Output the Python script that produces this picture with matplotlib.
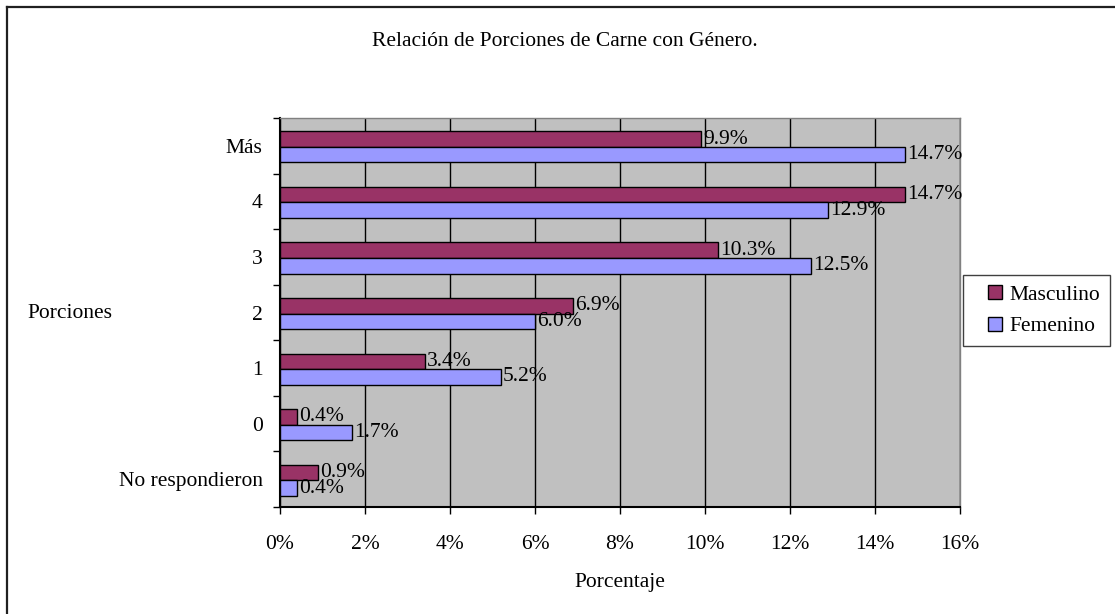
import matplotlib
matplotlib.use("Agg")
import matplotlib.pyplot as plt
from matplotlib.lines import Line2D
from matplotlib.ticker import FuncFormatter, MultipleLocator, FixedLocator
import numpy as np

# Porciones de carne por género (porcentaje)
categorias = ["No respondieron", "0", "1", "2", "3", "4", "Más"]
masculino = [0.9, 0.4, 3.4, 6.9, 10.3, 14.7, 9.9]
femenino = [0.4, 1.7, 5.2, 6.0, 12.5, 12.9, 14.7]
series = ["Masculino", "Femenino"]

COLOR_M = "#993366"
COLOR_F = "#9999FF"
FONDO = "#C0C0C0"
FS = 15.5

plt.rcParams['font.family'] = ['Liberation Serif', 'DejaVu Serif']
plt.rcParams['font.size'] = FS

W, H = 1115, 614
fig = plt.figure(figsize=(W / 100, H / 100), dpi=100)
ax = fig.add_axes([280 / W, 1 - 507 / H, 680 / W, 389 / H])
ax.set_facecolor(FONDO)

y = np.arange(len(categorias))
alto = 0.28
bm = ax.barh(y + alto / 2 - 0.02, masculino, height=alto, color=COLOR_M,
             edgecolor="black", linewidth=1, zorder=3)
bf = ax.barh(y - alto / 2 - 0.02, femenino, height=alto, color=COLOR_F,
             edgecolor="black", linewidth=1, zorder=3)
ax.bar_label(bm, fmt="{:.1f}%", padding=1.5, fontsize=FS, zorder=4)
ax.bar_label(bf, fmt="{:.1f}%", padding=1.5, fontsize=FS, zorder=4)

ax.set_xlim(0, 16)
ax.set_ylim(-0.5, len(categorias) - 0.5)
ax.xaxis.set_major_locator(MultipleLocator(2))
ax.xaxis.set_major_formatter(FuncFormatter(lambda v, p: f"{v:.0f}%"))
ax.grid(axis="x", color="black", linewidth=1, zorder=1)
ax.set_axisbelow(True)

# marcas del eje y en los límites de cada categoría, etiquetas al centro
ax.yaxis.set_major_locator(FixedLocator(np.arange(-0.5, len(categorias), 1.0)))
ax.yaxis.set_major_formatter(FuncFormatter(lambda v, p: ""))
ax.yaxis.set_minor_locator(FixedLocator(y))
ax.set_yticklabels(categorias, minor=True)
ax.tick_params(axis="y", which="minor", length=0, pad=12.5, labelsize=FS)
ax.tick_params(axis="y", which="major", length=5, width=1, direction="out")
ax.tick_params(axis="x", length=5, width=1, direction="out", pad=15, labelsize=FS)

for lado in ("left", "bottom"):
    ax.spines[lado].set_color("black")
    ax.spines[lado].set_linewidth(1.5)
for lado in ("top", "right"):
    ax.spines[lado].set_color("#808080")
    ax.spines[lado].set_linewidth(1)

fig.text(565 / W, 1 - 42 / H, "Relación de Porciones de Carne con Género.",
         ha="center", va="center", fontsize=FS)
fig.text(620 / W, 1 - 583 / H, "Porcentaje", ha="center", va="center", fontsize=FS)
fig.text(27 / W, 1 - 313 / H, "Porciones", ha="left", va="center", fontsize=FS)

# leyenda con marcadores cuadrados
handles = [Line2D([], [], linestyle="none", marker="s", markersize=10,
                  markerfacecolor=c, markeredgecolor="black", markeredgewidth=1)
           for c in (COLOR_M, COLOR_F)]
leg = fig.legend(handles, series, loc="center left",
                 bbox_to_anchor=(963 / W, 1 - 310.5 / H), fontsize=FS,
                 handlelength=2.07, handletextpad=-0.37,
                 labelspacing=0.55, borderpad=0.45, borderaxespad=0,
                 fancybox=False, framealpha=1, edgecolor="#404040")
leg.get_frame().set_linewidth(1)

# marco exterior del gráfico
fig.add_artist(Line2D([7 / W, 7 / W], [0, 1 - 7 / H], color="#202020", linewidth=1.6))
fig.add_artist(Line2D([7 / W, 1], [1 - 7 / H, 1 - 7 / H], color="#202020", linewidth=1.6))

fig.savefig("out.png", dpi=100)
